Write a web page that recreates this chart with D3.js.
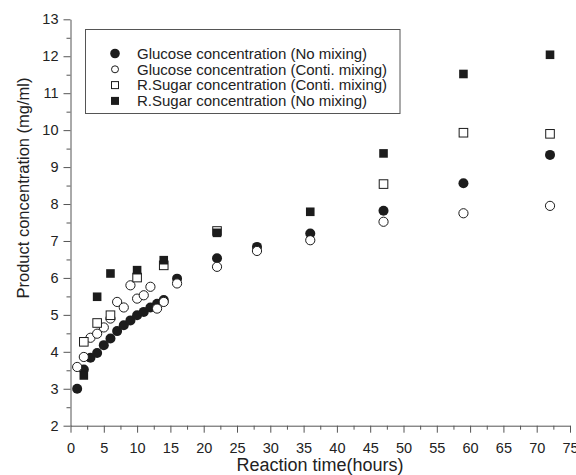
<!DOCTYPE html>
<html>
<head>
<meta charset="utf-8">
<script src="https://cdn.jsdelivr.net/npm/d3@7"></script>
<style>
  body { margin: 0; background: #fff; }
  text { font-family: "Liberation Sans", Arial, sans-serif; fill: #222; }
</style>
</head>
<body>
<div id="chart"></div>
<script>
// reaction time (hours)
var timeCircles = [1, 2, 3, 4, 5, 6, 7, 8, 9, 10, 11, 12, 13, 14, 16, 22, 28, 36, 47, 59, 72];
var glucoseNoMix = [3.0, 3.52, 3.84, 3.97, 4.18, 4.36, 4.56, 4.72, 4.85, 4.99, 5.08, 5.2, 5.3, 5.4, 5.98, 6.53, 6.84, 7.2, 7.82, 8.56, 9.33];
var glucoseMix = [3.59, 3.86, 4.38, 4.49, 4.66, 4.9, 5.35, 5.2, 5.8, 5.44, 5.53, 5.76, 5.17, 5.35, 5.85, 6.3, 6.73, 7.02, 7.52, 7.75, 7.95];

var timeSugarMix = [2, 4, 6, 10, 14, 22, 47, 59, 72];
var sugarMix = [4.27, 4.78, 4.99, 6.01, 6.34, 7.27, 8.54, 9.93, 9.9];

var timeSugarNoMix = [2, 4, 6, 10, 14, 22, 36, 47, 59, 72];
var sugarNoMix = [3.36, 5.49, 6.12, 6.21, 6.48, 7.22, 7.79, 9.37, 11.52, 12.04];

var legendLabels = [
    "Glucose concentration (No mixing)",
    "Glucose concentration (Conti. mixing)",
    "R.Sugar concentration (Conti. mixing)",
    "R.Sugar concentration (No mixing)"
];

var width = 576,
    height = 475;

var svg = d3.select("#chart")
    .append("svg")
    .attr("width", width)
    .attr("height", height);

var x = d3.scaleLinear().domain([0, 75]).range([70.5, 570]);
var y = d3.scaleLinear().domain([2, 13]).range([425.7, 19.3]);

var axisColor = "#555";

// minor ticks first, majors on top
svg.append("g")
    .attr("transform", "translate(0," + y(2) + ")")
    .call(d3.axisBottom(x).tickValues(d3.range(2.5, 75, 5)).tickSize(4).tickFormat(""))
    .call(function(g) { g.select(".domain").remove() })
    .selectAll("line").attr("stroke", axisColor);

svg.append("g")
    .attr("transform", "translate(" + x(0) + ",0)")
    .call(d3.axisLeft(y).tickValues(d3.range(2.5, 13, 1)).tickSize(4).tickFormat(""))
    .call(function(g) { g.select(".domain").remove() })
    .selectAll("line").attr("stroke", axisColor);

var xAxis = svg.append("g")
    .attr("transform", "translate(0," + y(2) + ")")
    .call(d3.axisBottom(x).tickValues(d3.range(0, 76, 5)).tickSize(7).tickSizeOuter(0).tickPadding(10));

var yAxis = svg.append("g")
    .attr("transform", "translate(" + x(0) + ",0)")
    .call(d3.axisLeft(y).tickValues(d3.range(2, 14, 1)).tickSize(7).tickSizeOuter(0).tickPadding(5));

[xAxis, yAxis].forEach(function(g) {
    g.select(".domain").attr("stroke", axisColor);
    g.selectAll("line").attr("stroke", axisColor);
    g.selectAll("text")
        .attr("fill", "#222")
        .style("font-size", "14.5px")
        .style("font-family", "'Liberation Sans', Arial, sans-serif");
});

svg.append("text")
    .attr("x", 320)
    .attr("y", 471)
    .attr("text-anchor", "middle")
    .style("font-size", "18px")
    .text("Reaction time(hours)");

svg.append("text")
    .attr("transform", "translate(29,188) rotate(-90)")
    .attr("text-anchor", "middle")
    .style("font-size", "16.5px")
    .text("Product concentration (mg/ml)");

var ink = "#1c1c1c";

// glucose, no mixing
svg.selectAll(".gnm")
    .data(timeCircles)
    .enter().append("circle")
    .attr("class", "gnm")
    .attr("cx", function(d) { return x(d) })
    .attr("cy", function(d, i) { return y(glucoseNoMix[i]) })
    .attr("r", 5)
    .attr("fill", ink);

// glucose, continuous mixing
svg.selectAll(".gm")
    .data(timeCircles)
    .enter().append("circle")
    .attr("class", "gm")
    .attr("cx", function(d) { return x(d) })
    .attr("cy", function(d, i) { return y(glucoseMix[i]) })
    .attr("r", 4.6)
    .attr("fill", "#fff")
    .attr("stroke", ink)
    .attr("stroke-width", 1);

var sq = 8.6;

// reducing sugar, continuous mixing
svg.selectAll(".sm")
    .data(timeSugarMix)
    .enter().append("rect")
    .attr("class", "sm")
    .attr("x", function(d) { return x(d) - sq / 2 })
    .attr("y", function(d, i) { return y(sugarMix[i]) - sq / 2 })
    .attr("width", sq)
    .attr("height", sq)
    .attr("fill", "#fff")
    .attr("stroke", ink)
    .attr("stroke-width", 1);

// reducing sugar, no mixing
svg.selectAll(".snm")
    .data(timeSugarNoMix)
    .enter().append("rect")
    .attr("class", "snm")
    .attr("x", function(d) { return x(d) - sq / 2 })
    .attr("y", function(d, i) { return y(sugarNoMix[i]) - sq / 2 })
    .attr("width", sq)
    .attr("height", sq)
    .attr("fill", ink);

// legend
var legend = svg.append("g");
legend.append("rect")
    .attr("x", 85.5)
    .attr("y", 29.5)
    .attr("width", 314.5)
    .attr("height", 84)
    .attr("fill", "#fff")
    .attr("stroke", axisColor)
    .attr("stroke-width", 1);

var rows = legend.selectAll(".row")
    .data(legendLabels)
    .enter().append("g")
    .attr("class", "row")
    .attr("transform", function(d, i) { return "translate(0," + (53.5 + i * 15.8) + ")" });

rows.append("text")
    .attr("x", 137)
    .attr("dy", "0.35em")
    .style("font-size", "15px")
    .text(function(d) { return d });

rows.each(function(d, i) {
    var g = d3.select(this);
    if (i == 0) {
        g.append("circle").attr("cx", 115).attr("r", 4.8).attr("fill", ink);
    }
    if (i == 1) {
        g.append("circle").attr("cx", 115).attr("r", 3.5).attr("fill", "#fff").attr("stroke", ink);
    }
    if (i == 2) {
        g.append("rect").attr("x", 111.5).attr("y", -3.5).attr("width", 7).attr("height", 7)
            .attr("fill", "#fff").attr("stroke", ink);
    }
    if (i == 3) {
        g.append("rect").attr("x", 111).attr("y", -4).attr("width", 8).attr("height", 8).attr("fill", ink);
    }
});
</script>
</body>
</html>
